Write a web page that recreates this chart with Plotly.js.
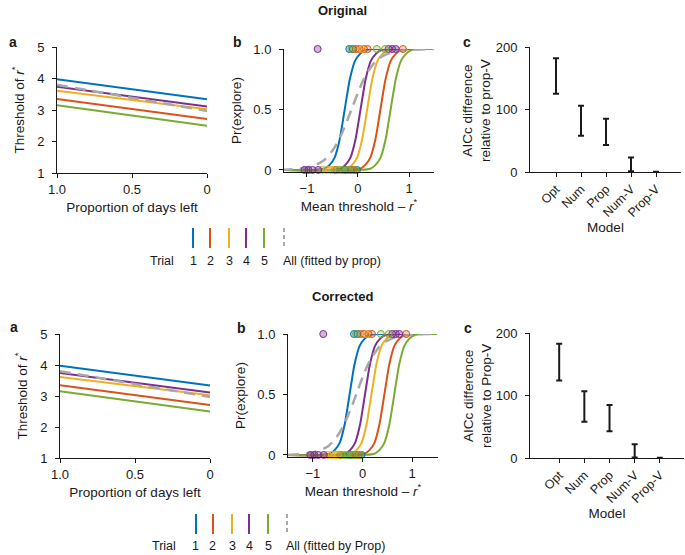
<!DOCTYPE html>
<html><head><meta charset="utf-8">
<script src="https://cdn.plot.ly/plotly-3.0.1.min.js"></script>
<style>html,body{margin:0;padding:0;background:#fff}#chart{width:685px;height:555px}</style>
</head><body><div id="chart"></div>
<script>
// ---------------- DATA ----------------
const trialLabels = ['1', '2', '3', '4', '5'];
const allLabelTop = 'All (fitted by prop)';
const allLabelBottom = 'All (fitted by Prop)';

// Panel a: threshold of r* vs proportion of days left
const propDaysLeft = [1.0, 0.0];
const thrTrial1 = [3.98, 3.34];
const thrTrial2 = [3.35, 2.71];
const thrTrial3 = [3.61, 3.02];
const thrTrial4 = [3.74, 3.11];
const thrTrial5 = [3.15, 2.50];
const thrAll = [3.80, 2.97];

// Panel b: fitted Pr(explore) curves
const curveY = [0, 0, 0.01, 0.04, 0.10, 0.25, 0.37, 0.50, 0.63, 0.75, 0.90, 0.96, 0.99, 1.0, 1.0];
const curveX1 = [-1.5, -0.86, -0.66, -0.56, -0.46, -0.36, -0.31, -0.26, -0.21, -0.16, -0.06, 0.04, 0.14, 0.34, 1.5];
const curveX2 = [-1.5, -0.16, 0.04, 0.14, 0.24, 0.34, 0.39, 0.44, 0.49, 0.54, 0.64, 0.74, 0.84, 1.04, 1.5];
const curveX3 = [-1.5, -0.42, -0.22, -0.12, -0.02, 0.08, 0.13, 0.18, 0.23, 0.28, 0.38, 0.48, 0.58, 0.78, 1.5];
const curveX4 = [-1.5, -0.55, -0.35, -0.25, -0.15, -0.05, 0.0, 0.05, 0.10, 0.15, 0.25, 0.35, 0.45, 0.65, 1.5];
const curveX5 = [-1.5, 0.04, 0.24, 0.34, 0.44, 0.54, 0.59, 0.64, 0.69, 0.74, 0.84, 0.94, 1.04, 1.24, 1.5];
const curveAllX = [-1.5, -1.0, -0.7, -0.5, -0.35, -0.2, -0.1, 0.0, 0.1, 0.2, 0.35, 0.5, 0.7, 1.0, 1.5];
const curveAllY = [0.0, 0.02, 0.07, 0.16, 0.27, 0.42, 0.53, 0.64, 0.74, 0.815, 0.90, 0.945, 0.977, 0.994, 1.0];

// Panel b: individual choices (x = mean threshold - r*), explore (1) / not (0)
const trial1Explore = [-0.17, -0.10];
const trial1Stay = [-0.02, -0.25];
const trial2Explore = [-0.04, 0.03, 0.12, 0.19, 0.88];
const trial2Stay = [-0.14, -0.08, -0.45];
const trial3Explore = [0.08];
const trial3Stay = [-0.70, -0.62, -0.55, -0.50];
const trial4Explore = [-0.79, 0.60, 0.67, 0.74];
const trial4Stay = [-1.05, -0.97, -0.89, -0.78];
const trial5Explore = [-0.13, 0.37, 0.53];
const trial5Stay = [-0.42, -0.36, -0.30, -0.22, -0.18, -0.05];

// Panel c: AICc difference ranges
const models = ['Opt', 'Num', 'Prop', 'Num-V', 'Prop-V'];
const aiccLowTop = [125, 58, 43, 1, 0];
const aiccHighTop = [182, 106, 85, 23, 0.5];
const aiccLowBottom = [124, 58, 43, 1, 0];
const aiccHighBottom = [183, 107, 85, 22, 0.5];

// ---------------- STYLE / LAYOUT ----------------
const W = 685, H = 555;
const colors = ['#0072BD', '#D95319', '#EDB120', '#7E2F8E', '#77AC30'];
const fills = ['rgba(0,114,189,0.25)', 'rgba(217,83,25,0.25)', 'rgba(237,177,32,0.25)', 'rgba(126,47,142,0.35)', 'rgba(119,172,48,0.25)'];
const grey = '#A8A8A8';
const FONT = 'Arial, "Liberation Sans", Helvetica, sans-serif';
const ink = '#1a1a1a';
const TICK = 13, TITLE = 13.5;

const thrs = [thrTrial1, thrTrial2, thrTrial3, thrTrial4, thrTrial5];
const curvesX = [curveX1, curveX2, curveX3, curveX4, curveX5];
const explores = [trial1Explore, trial2Explore, trial3Explore, trial4Explore, trial5Explore];
const stays = [trial1Stay, trial2Stay, trial3Stay, trial4Stay, trial5Stay];

const px = x => x / W;
const py = y => 1 - y / H;

const halves = [
  {
    title: 'Original', titleY: 10,
    a: {x: [57, 207], y: [47, 173]},
    b: {x: [284, 434], y: [49, 172], xr: [-1.45, 1.49]},
    c: {x: [530, 681], y: [47, 172], xr: [-1.04, 5.0]},
    letters: [[7, 42], [231, 42], [461, 42]],
    lo: aiccLowTop, hi: aiccHighTop,
    cTitle: 'AICc difference<br>relative to prop-V', cTitleXY: [477, 111],
    leg: {xs: [193, 210, 229, 246, 264, 284], y0: 228, y1: 248, ty: 261, trialX: 162},
    allLabel: allLabelTop
  },
  {
    title: 'Corrected', titleY: 296,
    a: {x: [60, 210], y: [334, 458]},
    b: {x: [288, 438], y: [334, 457], xr: [-1.5, 1.52]},
    c: {x: [530, 684], y: [333, 458], xr: [-1.16, 4.96]},
    letters: [[8, 327], [235, 328], [462, 328]],
    lo: aiccLowBottom, hi: aiccHighBottom,
    cTitle: 'AICc difference<br>relative to Prop-V', cTitleXY: [477, 396],
    leg: {xs: [196, 213, 232, 249, 268, 287], y0: 514, y1: 534, ty: 546, trialX: 164},
    allLabel: allLabelBottom
  }
];

const data = [];
const layout = {
  width: W, height: H,
  margin: {l: 0, r: 0, t: 0, b: 0},
  paper_bgcolor: '#fff', plot_bgcolor: 'rgba(0,0,0,0)',
  showlegend: false,
  font: {family: FONT, size: 12, color: ink},
  shapes: [], annotations: []
};

function baseAxis(extra) {
  return Object.assign({
    showline: true, linecolor: ink, linewidth: 1,
    ticks: 'outside', ticklen: 4, tickwidth: 1, tickcolor: ink,
    showgrid: false, zeroline: false, fixedrange: true,
    tickfont: {family: FONT, size: TICK, color: ink}
  }, extra);
}

halves.forEach((h, hi) => {
  const n = hi * 3;
  const ids = [n + 1, n + 2, n + 3];
  const xk = i => 'xaxis' + (i === 1 ? '' : i);
  const yk = i => 'yaxis' + (i === 1 ? '' : i);
  const xr = i => 'x' + (i === 1 ? '' : i);
  const yr = i => 'y' + (i === 1 ? '' : i);

  // ---- panel a
  const ia = ids[0];
  layout[xk(ia)] = baseAxis({
    domain: [px(h.a.x[0]), px(h.a.x[1])], anchor: yr(ia),
    range: [1, 0], tickvals: [1, 0.5, 0], ticktext: ['1.0', '0.5', '0'],
    title: {text: 'Proportion of days left', font: {size: TITLE}, standoff: 6}
  });
  layout[yk(ia)] = baseAxis({
    domain: [py(h.a.y[1]), py(h.a.y[0])], anchor: xr(ia),
    range: [1, 5], tickvals: [1, 2, 3, 4, 5], ticklabelstandoff: 5,
    title: {text: 'Threshold of <i>r</i><sup>*</sup>', font: {size: TITLE}, standoff: 9}
  });
  [0, 1, 2, 3, 4].forEach(t => data.push({
    type: 'scatter', mode: 'lines', x: propDaysLeft, y: thrs[t],
    xaxis: xr(ia), yaxis: yr(ia), line: {color: colors[t], width: 2}, hoverinfo: 'skip'
  }));
  data.push({
    type: 'scatter', mode: 'lines', x: propDaysLeft, y: thrAll,
    xaxis: xr(ia), yaxis: yr(ia), line: {color: grey, width: 2.5, dash: '11px,7px'}, hoverinfo: 'skip'
  });

  // ---- panel b
  const ib = ids[1];
  layout[xk(ib)] = baseAxis({
    domain: [px(h.b.x[0]), px(h.b.x[1])], anchor: yr(ib),
    range: h.b.xr, tickvals: [-1, 0, 1], ticktext: ['\u22121', '0', '1'],
    title: {text: 'Mean threshold \u2013 <i>r</i><sup>*</sup>', font: {size: TITLE}, standoff: 6}
  });
  layout[yk(ib)] = baseAxis({
    domain: [py(h.b.y[1]), py(h.b.y[0])], anchor: xr(ib),
    range: [-0.017, 1], tickvals: [0, 0.5, 1], ticktext: ['0', '0.5', '1.0'], ticklabelstandoff: 5,
    title: {text: 'Pr(explore)', font: {size: TITLE}, standoff: 8}
  });
  [0, 1, 2, 3, 4].forEach(t => data.push({
    type: 'scatter', mode: 'lines', x: curvesX[t], y: curveY,
    xaxis: xr(ib), yaxis: yr(ib), line: {color: colors[t], width: 2, shape: 'spline', smoothing: 0.8},
    hoverinfo: 'skip'
  }));
  data.push({
    type: 'scatter', mode: 'lines', x: curveAllX, y: curveAllY,
    xaxis: xr(ib), yaxis: yr(ib), line: {color: grey, width: 2.5, dash: '11px,7px', shape: 'spline', smoothing: 0.8},
    hoverinfo: 'skip'
  });
  [0, 1, 2, 3, 4].forEach(t => {
    data.push({
      type: 'scatter', mode: 'markers',
      x: explores[t].concat(stays[t]),
      y: explores[t].map(() => 1).concat(stays[t].map(() => 0)),
      xaxis: xr(ib), yaxis: yr(ib), cliponaxis: false,
      marker: {size: 7, color: fills[t], line: {color: colors[t], width: 1}}, hoverinfo: 'skip'
    });
  });

  // ---- panel c
  const ic = ids[2];
  layout[xk(ic)] = baseAxis({
    domain: [px(h.c.x[0]), px(h.c.x[1])], anchor: yr(ic),
    type: 'category', range: h.c.xr, tickangle: -45,
    tickfont: {family: FONT, size: 12.5, color: ink},
    title: {text: 'Model', font: {size: TITLE}, standoff: 1}
  });
  layout[yk(ic)] = baseAxis({
    domain: [py(h.c.y[1]), py(h.c.y[0])], anchor: xr(ic),
    range: [0, 200], tickvals: [0, 100, 200], ticklabelstandoff: 5
  });
  layout.annotations.push({
    xref: 'paper', yref: 'paper', x: px(h.cTitleXY[0]), y: py(h.cTitleXY[1]),
    xanchor: 'center', yanchor: 'middle', textangle: -90, showarrow: false,
    text: h.cTitle, font: {size: TITLE}
  });
  const mid = h.lo.map((l, i) => (l + h.hi[i]) / 2);
  data.push({
    type: 'scatter', mode: 'markers', x: models, y: mid,
    xaxis: xr(ic), yaxis: yr(ic), cliponaxis: false,
    marker: {size: 1, color: 'rgba(0,0,0,0)'},
    error_y: {type: 'data', symmetric: false,
      array: h.hi.map((v, i) => v - mid[i]), arrayminus: mid.map((m, i) => m - h.lo[i]),
      color: ink, thickness: 2, width: 3},
    hoverinfo: 'skip'
  });

  // ---- titles and letters
  layout.annotations.push({
    xref: 'paper', yref: 'paper', x: px(342), y: py(h.titleY), xanchor: 'center', yanchor: 'middle',
    text: '<b>' + h.title + '</b>', showarrow: false, font: {size: 13}
  });
  ['a', 'b', 'c'].forEach((L, i) => layout.annotations.push({
    xref: 'paper', yref: 'paper', x: px(h.letters[i][0]), y: py(h.letters[i][1]),
    xanchor: 'left', yanchor: 'middle', text: '<b>' + L + '</b>', showarrow: false, font: {size: 14}
  }));

  // ---- custom legend
  const lg = h.leg;
  lg.xs.forEach((x, i) => {
    layout.shapes.push({
      type: 'line', xref: 'paper', yref: 'paper',
      x0: px(x), x1: px(x), y0: py(lg.y0), y1: py(lg.y1),
      line: {color: i < 5 ? colors[i] : grey, width: 2, dash: i < 5 ? 'solid' : '4px,3px'}
    });
    layout.annotations.push({
      xref: 'paper', yref: 'paper', x: px(i < 5 ? x : x - 3), y: py(lg.ty),
      xanchor: i < 5 ? 'center' : 'left', yanchor: 'middle', showarrow: false,
      text: i < 5 ? trialLabels[i] : h.allLabel, font: {size: 12.5}
    });
  });
  layout.annotations.push({
    xref: 'paper', yref: 'paper', x: px(lg.trialX), y: py(lg.ty),
    xanchor: 'center', yanchor: 'middle', showarrow: false, text: 'Trial', font: {size: 12.5}
  });
});

Plotly.newPlot('chart', data, layout, {staticPlot: true, displayModeBar: false});
</script>
</body></html>
